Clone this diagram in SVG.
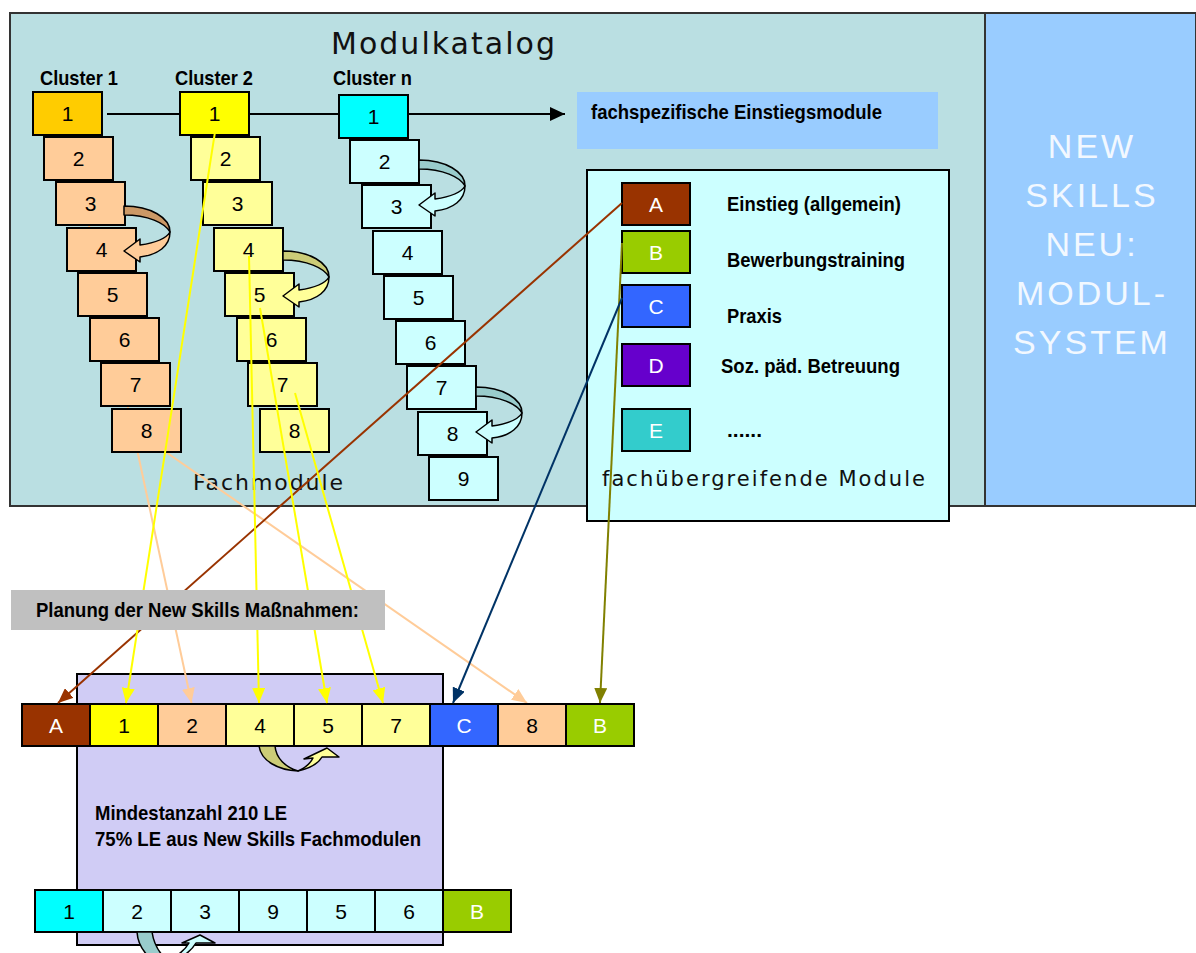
<svg xmlns="http://www.w3.org/2000/svg" xmlns:xlink="http://www.w3.org/1999/xlink" width="1196" height="953" viewBox="0 0 1196 953">
<style>
.bx{stroke:#000;stroke-width:2}
.num{font-family:"Liberation Sans",Arial,sans-serif;font-size:21px;text-anchor:middle;fill:#000}
.let{font-family:"Liberation Sans",Arial,sans-serif;font-size:21px;text-anchor:middle;fill:#fff}
.nar{font-family:"Liberation Sans Narrow","Liberation Sans",Arial,sans-serif;font-size:21px;font-weight:bold;fill:#000}
.wide{font-family:"DejaVu Sans",Verdana,sans-serif;fill:#111}
.big{font-family:"Liberation Sans",Arial,sans-serif;font-size:34px;letter-spacing:3px;fill:#F2F8FF;text-anchor:middle}
.ln{fill:none;stroke-width:2}
.cv{stroke:#000;stroke-width:1.5;stroke-linejoin:round}
</style>
<defs>
<marker id="mBrown" markerUnits="userSpaceOnUse" markerWidth="15" markerHeight="13" refX="15" refY="6.5" orient="auto"><path d="M0,0 L15,6.5 L0,13 Z" fill="#993300"/></marker>
<marker id="mOlive" markerUnits="userSpaceOnUse" markerWidth="15" markerHeight="13" refX="15" refY="6.5" orient="auto"><path d="M0,0 L15,6.5 L0,13 Z" fill="#808000"/></marker>
<marker id="mNavy" markerUnits="userSpaceOnUse" markerWidth="15" markerHeight="13" refX="15" refY="6.5" orient="auto"><path d="M0,0 L15,6.5 L0,13 Z" fill="#003366"/></marker>
<marker id="mYellow" markerUnits="userSpaceOnUse" markerWidth="15" markerHeight="13" refX="15" refY="6.5" orient="auto"><path d="M0,0 L15,6.5 L0,13 Z" fill="#FFFF00"/></marker>
<marker id="mPeach" markerUnits="userSpaceOnUse" markerWidth="15" markerHeight="13" refX="15" refY="6.5" orient="auto"><path d="M0,0 L15,6.5 L0,13 Z" fill="#FFCC99"/></marker>
<marker id="mBlack" markerUnits="userSpaceOnUse" markerWidth="15" markerHeight="14" refX="15" refY="7" orient="auto"><path d="M0,0 L15,7 L0,14 Z" fill="#000"/></marker>
<path id="cdark" d="M0,0 C27,0 46,12 46,26 C41,17 24,9 0,9 Z"/>
<path id="clight" d="M46,26 C46,40 34,49 16,51 L16,56 L0,45 L16,33 L16,39 C30,37 42,33 46,26 Z"/>
</defs>

<g id="modulkatalog">
<rect x="10" y="13" width="975" height="493" fill="#BADFE2" stroke="#333" stroke-width="2"/>
<text class="wide" x="331" y="54" font-size="30" textLength="224" lengthAdjust="spacing">Modulkatalog</text>
<text class="wide" x="193" y="490" font-size="22" textLength="150" lengthAdjust="spacing">Fachmodule</text>
</g>
<g id="new-skills">
<rect x="985" y="13" width="211" height="493" fill="#99CCFF" stroke="#333" stroke-width="2"/>
<text class="big" x="1092" y="158">NEW</text>
<text class="big" x="1092" y="207">SKILLS</text>
<text class="big" x="1092" y="256">NEU:</text>
<text class="big" x="1092" y="305">MODUL-</text>
<text class="big" x="1092" y="354">SYSTEM</text>
</g>

<g id="planung-rahmen">
<rect x="77" y="674" width="366" height="271" fill="#D0CCF5" stroke="#000" stroke-width="2"/>
<text class="nar" x="95" y="820" textLength="192" lengthAdjust="spacingAndGlyphs">Mindestanzahl 210 LE</text>
<text class="nar" x="95" y="846" textLength="326" lengthAdjust="spacingAndGlyphs">75% LE aus New Skills Fachmodulen</text>
</g>

<g id="connectors-under">
<path class="ln" d="M107,114 L565,114" stroke="#000" stroke-width="1.8" marker-end="url(#mBlack)"/>
<path class="ln" d="M77,170 L191.5,703" stroke="#FFCC99" marker-end="url(#mPeach)"/>
<path class="ln" d="M150,441 L527,703" stroke="#FFCC99" marker-end="url(#mPeach)"/>
</g>

<g id="cluster-labels">
<text class="nar" x="40" y="85" textLength="78" lengthAdjust="spacingAndGlyphs">Cluster 1</text>
<text class="nar" x="175" y="85" textLength="78" lengthAdjust="spacingAndGlyphs">Cluster 2</text>
<text class="nar" x="333" y="85" textLength="79" lengthAdjust="spacingAndGlyphs">Cluster n</text>
</g>

<g id="cluster1">
<g id="c1-1"><rect class="bx" x="33" y="92" width="69" height="43" fill="#FFCC00"/><text class="num" x="67.5" y="121">1</text></g>
<g id="c1-2"><rect class="bx" x="44" y="137" width="69" height="43" fill="#FFCC99"/><text class="num" x="78.5" y="166">2</text></g>
<g id="c1-3"><rect class="bx" x="56" y="182" width="69" height="43" fill="#FFCC99"/><text class="num" x="90.5" y="211">3</text></g>
<g id="c1-4"><rect class="bx" x="67" y="228" width="69" height="43" fill="#FFCC99"/><text class="num" x="101.5" y="257">4</text></g>
<g id="c1-5"><rect class="bx" x="78" y="273" width="69" height="43" fill="#FFCC99"/><text class="num" x="112.5" y="302">5</text></g>
<g id="c1-6"><rect class="bx" x="90" y="318" width="69" height="43" fill="#FFCC99"/><text class="num" x="124.5" y="347">6</text></g>
<g id="c1-7"><rect class="bx" x="101" y="363" width="69" height="43" fill="#FFCC99"/><text class="num" x="135.5" y="392">7</text></g>
<g id="c1-8"><rect class="bx" x="112" y="409" width="69" height="43" fill="#FFCC99"/><text class="num" x="146.5" y="438">8</text></g>
<use href="#cdark" x="124" y="206" fill="#CC9966" class="cv"/>
<use href="#clight" x="124" y="206" fill="#FFCC99" class="cv"/>
</g>

<g id="cluster2">
<g id="c2-1"><rect class="bx" x="180" y="92" width="69" height="43" fill="#FFFF00"/><text class="num" x="214.5" y="121">1</text></g>
<g id="c2-2"><rect class="bx" x="191" y="137" width="69" height="43" fill="#FFFF99"/><text class="num" x="225.5" y="166">2</text></g>
<g id="c2-3"><rect class="bx" x="203" y="182" width="69" height="43" fill="#FFFF99"/><text class="num" x="237.5" y="211">3</text></g>
<g id="c2-4"><rect class="bx" x="214" y="228" width="69" height="43" fill="#FFFF99"/><text class="num" x="248.5" y="257">4</text></g>
<g id="c2-5"><rect class="bx" x="225" y="273" width="69" height="43" fill="#FFFF99"/><text class="num" x="259.5" y="302">5</text></g>
<g id="c2-6"><rect class="bx" x="237" y="318" width="69" height="43" fill="#FFFF99"/><text class="num" x="271.5" y="347">6</text></g>
<g id="c2-7"><rect class="bx" x="248" y="363" width="69" height="43" fill="#FFFF99"/><text class="num" x="282.5" y="392">7</text></g>
<g id="c2-8"><rect class="bx" x="260" y="409" width="69" height="43" fill="#FFFF99"/><text class="num" x="294.5" y="438">8</text></g>
<use href="#cdark" x="283" y="251" fill="#CCCC77" class="cv"/>
<use href="#clight" x="283" y="251" fill="#FFFF99" class="cv"/>
</g>

<g id="clustern">
<g id="cn-1"><rect class="bx" x="339" y="95" width="69" height="43" fill="#00FFFF"/><text class="num" x="373.5" y="124">1</text></g>
<g id="cn-2"><rect class="bx" x="350" y="140" width="69" height="43" fill="#CCFFFF"/><text class="num" x="384.5" y="169">2</text></g>
<g id="cn-3"><rect class="bx" x="362" y="185" width="69" height="43" fill="#CCFFFF"/><text class="num" x="396.5" y="214">3</text></g>
<g id="cn-4"><rect class="bx" x="373" y="231" width="69" height="43" fill="#CCFFFF"/><text class="num" x="407.5" y="260">4</text></g>
<g id="cn-5"><rect class="bx" x="384" y="276" width="69" height="43" fill="#CCFFFF"/><text class="num" x="418.5" y="305">5</text></g>
<g id="cn-6"><rect class="bx" x="396" y="321" width="69" height="43" fill="#CCFFFF"/><text class="num" x="430.5" y="350">6</text></g>
<g id="cn-7"><rect class="bx" x="407" y="366" width="69" height="43" fill="#CCFFFF"/><text class="num" x="441.5" y="395">7</text></g>
<g id="cn-8"><rect class="bx" x="418" y="412" width="69" height="43" fill="#CCFFFF"/><text class="num" x="452.5" y="441">8</text></g>
<g id="cn-9"><rect class="bx" x="429" y="457" width="69" height="43" fill="#CCFFFF"/><text class="num" x="463.5" y="486">9</text></g>
<use href="#cdark" x="419" y="160" fill="#99CCCC" class="cv"/>
<use href="#clight" x="419" y="160" fill="#CCFFFF" class="cv"/>
<use href="#cdark" x="476" y="387" fill="#99CCCC" class="cv"/>
<use href="#clight" x="476" y="387" fill="#CCFFFF" class="cv"/>
</g>

<g id="einstiegsmodule">
<rect x="577" y="92" width="361" height="57" fill="#99CCFF"/>
<text class="nar" x="591" y="119" textLength="291" lengthAdjust="spacingAndGlyphs">fachspezifische Einstiegsmodule</text>
</g>

<g id="fachuebergreifend">
<rect x="587" y="170" width="362" height="351" fill="#CCFFFF" stroke="#000" stroke-width="2"/>
<g id="mod-A"><rect class="bx" x="622" y="183" width="68" height="42" fill="#993300"/><text class="let" x="656" y="212">A</text></g>
<g id="mod-B"><rect class="bx" x="622" y="231" width="68" height="42" fill="#99CC00"/><text class="let" x="656" y="260">B</text></g>
<g id="mod-C"><rect class="bx" x="622" y="285" width="68" height="42" fill="#3366FF"/><text class="let" x="656" y="314">C</text></g>
<g id="mod-D"><rect class="bx" x="622" y="344" width="68" height="42" fill="#6600CC"/><text class="let" x="656" y="373">D</text></g>
<g id="mod-E"><rect class="bx" x="622" y="409" width="68" height="42" fill="#33CCCC"/><text class="let" x="656" y="438">E</text></g>
<text class="nar" x="727" y="211" textLength="174" lengthAdjust="spacingAndGlyphs">Einstieg (allgemein)</text>
<text class="nar" x="727" y="267" textLength="178" lengthAdjust="spacingAndGlyphs">Bewerbungstraining</text>
<text class="nar" x="727" y="323" textLength="55" lengthAdjust="spacingAndGlyphs">Praxis</text>
<text class="nar" x="721" y="373" textLength="179" lengthAdjust="spacingAndGlyphs">Soz. päd. Betreuung</text>
<text class="nar" x="727" y="437" font-weight="normal">......</text>
<text class="wide" x="602" y="486" font-size="21" textLength="323" lengthAdjust="spacing">fachübergreifende Module</text>
</g>

<g id="row1">
<g><rect class="bx" x="22" y="704" width="68" height="42" fill="#993300"/><text class="let" x="56" y="733">A</text></g>
<g><rect class="bx" x="90" y="704" width="68" height="42" fill="#FFFF00"/><text class="num" x="124" y="733">1</text></g>
<g><rect class="bx" x="158" y="704" width="68" height="42" fill="#FFCC99"/><text class="num" x="192" y="733">2</text></g>
<g><rect class="bx" x="226" y="704" width="68" height="42" fill="#FFFF99"/><text class="num" x="260" y="733">4</text></g>
<g><rect class="bx" x="294" y="704" width="68" height="42" fill="#FFFF99"/><text class="num" x="328" y="733">5</text></g>
<g><rect class="bx" x="362" y="704" width="68" height="42" fill="#FFFF99"/><text class="num" x="396" y="733">7</text></g>
<g><rect class="bx" x="430" y="704" width="68" height="42" fill="#3366FF"/><text class="let" x="464" y="733">C</text></g>
<g><rect class="bx" x="498" y="704" width="68" height="42" fill="#FFCC99"/><text class="num" x="532" y="733">8</text></g>
<g><rect class="bx" x="566" y="704" width="68" height="42" fill="#99CC00"/><text class="let" x="600" y="733">B</text></g>
<path class="cv" fill="#CCCC77" d="M259,746 L275,746 C276,758 285,767 298,771 C278,770 261,761 259,746 Z"/>
<path class="cv" fill="#FFFF99" d="M298,771 C311,768 318,764 322,757 L339,757 L327,748 L304,759 L313,758 C310,764 305,768 298,771 Z"/>
</g>

<g id="row2">
<g><rect class="bx" x="35" y="890" width="68" height="42" fill="#00FFFF"/><text class="num" x="69" y="919">1</text></g>
<g><rect class="bx" x="103" y="890" width="68" height="42" fill="#CCFFFF"/><text class="num" x="137" y="919">2</text></g>
<g><rect class="bx" x="171" y="890" width="68" height="42" fill="#CCFFFF"/><text class="num" x="205" y="919">3</text></g>
<g><rect class="bx" x="239" y="890" width="68" height="42" fill="#CCFFFF"/><text class="num" x="273" y="919">9</text></g>
<g><rect class="bx" x="307" y="890" width="68" height="42" fill="#CCFFFF"/><text class="num" x="341" y="919">5</text></g>
<g><rect class="bx" x="375" y="890" width="68" height="42" fill="#CCFFFF"/><text class="num" x="409" y="919">6</text></g>
<g><rect class="bx" x="443" y="890" width="68" height="42" fill="#99CC00"/><text class="let" x="477" y="919">B</text></g>
<path class="cv" fill="#99CCCC" d="M137,932 L152,932 C154,945 160,955 170,962 L160,965 C148,958 138,947 137,932 Z"/>
<path class="cv" fill="#CCFFFF" d="M168,963 C182,958 192,950 196,943 L215,943 L200,935 L182,943 L189,943 C185,950 178,957 163,961 Z"/>
</g>

<g id="connectors">
<path class="ln" d="M622,203 L58,703" stroke="#993300" marker-end="url(#mBrown)"/>
<path class="ln" d="M622,243 L600,703" stroke="#808000" marker-end="url(#mOlive)"/>
<path class="ln" d="M622,298 L453,703" stroke="#003366" marker-end="url(#mNavy)"/>
<path class="ln" d="M215,132 L126,703" stroke="#FFFF00" marker-end="url(#mYellow)"/>
<path class="ln" d="M249,256 L259,703" stroke="#FFFF00" marker-end="url(#mYellow)"/>
<path class="ln" d="M260,308 L327,703" stroke="#FFFF00" marker-end="url(#mYellow)"/>
<path class="ln" d="M295,393 L383,703" stroke="#FFFF00" marker-end="url(#mYellow)"/>
</g>

<g id="planung">
<rect x="11" y="590" width="374" height="40" fill="#C0C0C0"/>
<text class="nar" x="36" y="617" textLength="323" lengthAdjust="spacingAndGlyphs">Planung der New Skills Maßnahmen:</text>
</g>
</svg>
